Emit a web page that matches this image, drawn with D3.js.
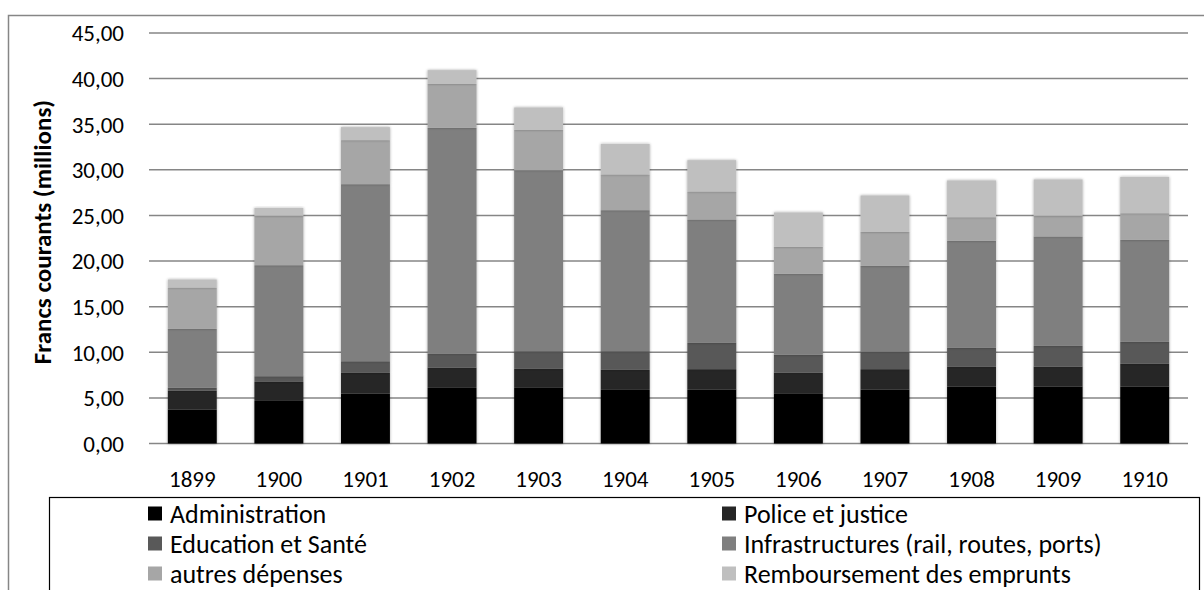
<!DOCTYPE html>
<html>
<head>
<meta charset="utf-8">
<script src="https://cdn.jsdelivr.net/npm/d3@7"></script>
<style>
  body { margin: 0; background: #fff; }
  svg { display: block; font-family: Carlito, Calibri, Lato, sans-serif; }
</style>
</head>
<body>
<div id="chart"></div>
<script>
// years on the x axis
let years = ["1899", "1900", "1901", "1902", "1903", "1904", "1905", "1906", "1907", "1908", "1909", "1910"];

// series, in stacking order (bottom to top)
let seriesNames = ["Administration", "Police et justice", "Education et Santé",
  "Infrastructures (rail, routes, ports)", "autres dépenses", "Remboursement des emprunts"];
let seriesColors = ["#000000", "#262626", "#595959", "#7f7f7f", "#a6a6a6", "#bfbfbf"];

// values, millions of francs
let administration = [3.73, 4.67, 5.48, 6.10, 6.10, 5.88, 5.92, 5.44, 5.92, 6.25, 6.25, 6.25];
let police = [2.04, 2.08, 2.26, 2.23, 2.08, 2.19, 2.23, 2.34, 2.23, 2.15, 2.19, 2.48];
let education = [0.33, 0.63, 1.28, 1.54, 1.94, 2.05, 2.88, 1.94, 1.94, 2.08, 2.26, 2.41];
let infrastructures = [6.47, 12.17, 19.41, 24.74, 19.85, 15.46, 13.53, 8.88, 9.38, 11.74, 12.00, 11.18];
let autres = [4.53, 5.41, 4.83, 4.82, 4.42, 3.92, 3.07, 2.96, 3.73, 2.59, 2.26, 2.93];
let remboursement = [0.88, 0.87, 1.42, 1.50, 2.45, 3.35, 3.43, 3.77, 3.99, 4.03, 3.99, 3.98];

let yTicks = [0, 5, 10, 15, 20, 25, 30, 35, 40, 45];

let width = 1204;
let height = 590;
let margin = { left: 149, right: 16, top: 33, bottom: 146.5 };

let svg = d3.select("#chart").append("svg")
  .attr("width", width)
  .attr("height", height);

// outer chart frame (runs off the right and bottom edges)
svg.append("rect")
  .attr("x", 8.5)
  .attr("y", 15.5)
  .attr("width", width + 20)
  .attr("height", height + 20)
  .attr("fill", "none")
  .attr("stroke", "#868686")
  .attr("stroke-width", 1.5);

let data = years.map(function (y, i) {
  return {
    year: y,
    "Administration": administration[i],
    "Police et justice": police[i],
    "Education et Santé": education[i],
    "Infrastructures (rail, routes, ports)": infrastructures[i],
    "autres dépenses": autres[i],
    "Remboursement des emprunts": remboursement[i]
  };
});

let stacked = d3.stack().keys(seriesNames)(data);

let x = d3.scaleBand()
  .domain(years)
  .range([margin.left, width - margin.right])
  .paddingInner(0.435)
  .paddingOuter(0.2175);

let y = d3.scaleLinear()
  .domain([0, 45])
  .range([height - margin.bottom, margin.top]);

let color = d3.scaleOrdinal()
  .domain(seriesNames)
  .range(seriesColors);

// soft shadow like the spreadsheet bars
let defs = svg.append("defs");
let shadow = defs.append("filter").attr("id", "shadow")
  .attr("x", "-20%").attr("y", "-20%").attr("width", "140%").attr("height", "140%");
shadow.append("feGaussianBlur").attr("in", "SourceAlpha").attr("stdDeviation", 1.5);
shadow.append("feOffset").attr("dx", 0).attr("dy", 0).attr("result", "blur");
shadow.append("feComponentTransfer").append("feFuncA").attr("type", "linear").attr("slope", 0.35);
let merge = shadow.append("feMerge");
merge.append("feMergeNode");
merge.append("feMergeNode").attr("in", "SourceGraphic");

// gridlines
svg.append("g")
  .selectAll("line")
  .data(yTicks)
  .enter()
  .append("line")
  .attr("x1", margin.left)
  .attr("x2", width - margin.right)
  .attr("y1", function (d) { return y(d) })
  .attr("y2", function (d) { return y(d) })
  .attr("stroke", "#868686")
  .attr("stroke-width", 1.5);

// y tick labels
svg.append("g")
  .selectAll("text")
  .data(yTicks)
  .enter()
  .append("text")
  .attr("x", 124)
  .attr("y", function (d) { return y(d) })
  .attr("dy", "0.36em")
  .attr("text-anchor", "end")
  .style("font-size", "23px")
  .style("fill", "#000")
  .text(function (d) { return d.toFixed(2).replace(".", ",") });

// stacked bars
svg.append("g")
  .selectAll("g")
  .data(stacked)
  .enter()
  .append("g")
  .attr("fill", function (d) { return color(d.key) })
  .selectAll("rect")
  .data(function (d) { return d })
  .enter()
  .append("rect")
  .attr("x", function (d) { return x(d.data.year) })
  .attr("y", function (d) { return y(d[1]) })
  .attr("width", x.bandwidth())
  .attr("height", function (d) { return y(d[0]) - y(d[1]) })
  .attr("filter", "url(#shadow)");

// x labels
svg.append("g")
  .selectAll("text")
  .data(years)
  .enter()
  .append("text")
  .attr("x", function (d) { return x(d) + x.bandwidth() / 2 })
  .attr("y", 479)
  .attr("dy", "0.36em")
  .attr("text-anchor", "middle")
  .style("font-size", "23px")
  .text(function (d) { return d });

// y axis title
svg.append("text")
  .attr("transform", "translate(42, 232) rotate(-90)")
  .attr("text-anchor", "middle")
  .attr("dy", "0.36em")
  .style("font-size", "25px")
  .style("font-weight", "bold")
  .text("Francs courants (millions)");

// legend box
let legendTop = 497.5;
svg.append("rect")
  .attr("x", 49.5)
  .attr("y", legendTop)
  .attr("width", 1150)
  .attr("height", 120)
  .attr("fill", "#fff")
  .attr("stroke", "#000")
  .attr("stroke-width", 1.2);

let legendItemSize = 14;
let rowHeight = 30;
let colX = [148, 722];

let legend = svg.append("g")
  .selectAll("g")
  .data(seriesNames)
  .enter()
  .append("g")
  .attr("transform", function (d, i) {
    return `translate(${colX[i % 2]}, ${legendTop + 16 + Math.floor(i / 2) * rowHeight})`;
  });

legend.append("rect")
  .attr("y", -legendItemSize / 2)
  .attr("width", legendItemSize)
  .attr("height", legendItemSize)
  .attr("fill", function (d) { return color(d) });

legend.append("text")
  .attr("x", 22)
  .attr("dy", "0.36em")
  .style("font-size", "26px")
  .text(function (d) { return d });
</script>
</body>
</html>
